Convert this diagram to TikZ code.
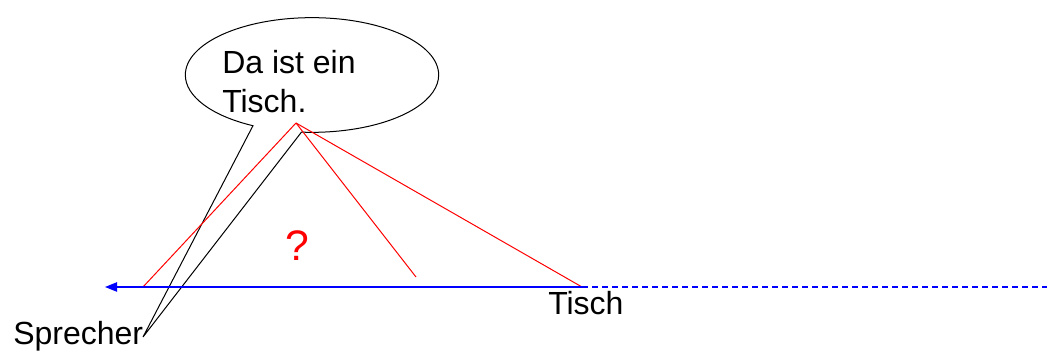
\documentclass[tikz,border=0pt]{standalone}
\usepackage{fontspec}
\setmainfont{Liberation Sans}
\usetikzlibrary{arrows.meta,shapes.callouts}

\begin{document}
\begin{tikzpicture}[
    x=0.75pt, y=-0.75pt,
    every node/.style={font=\fontsize{24}{29}\selectfont, inner sep=0pt},
    bubble/.style={draw, ellipse callout, line width=0.75pt, minimum width=190pt, minimum height=86pt, callout pointer arc=23},
    ray/.style={red, line width=0.75pt},
    axis/.style={blue, line width=1pt},
    guess/.style={red, font=\fontsize{32}{36}\selectfont}
]
\useasboundingbox (0,0) rectangle (1047,352);
\coordinate (mouth) at (143,337);
\coordinate (eye) at (296,123);
\coordinate (foot) at (143,287);
\coordinate (mid) at (416,277);
\coordinate (table) at (582,287);
\coordinate (left) at (105,287);
\coordinate (right) at (1047,287);
\node[bubble, callout absolute pointer={(mouth)}] (bubble) at (312,75) {};
\node[anchor=north west, align=left] (speech) at (222,50) {Da ist ein\\Tisch.};
\draw[ray] (eye) -- (foot);
\draw[ray] (eye) -- (mid);
\draw[ray] (eye) -- (table);
\draw[axis, -{Triangle[length=9pt,width=7pt]}] (table) -- (left);
\draw[axis, dash pattern=on 4.5pt off 3pt] (table) -- (right);
\node[guess] (query) at (297,246) {?};
\node[anchor=base west] (tisch) at (548,315) {Tisch};
\node[anchor=base west] (sprecher) at (13,345) {Sprecher};
\end{tikzpicture}
\end{document}
